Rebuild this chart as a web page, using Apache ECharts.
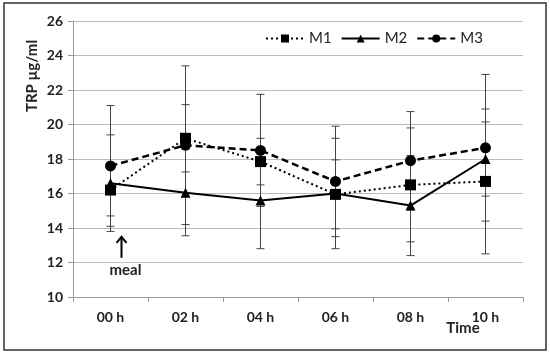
<!DOCTYPE html>
<html>
<head>
<meta charset="utf-8">
<script src="https://cdn.jsdelivr.net/npm/echarts@6/dist/echarts.min.js"></script>
<style>
  html, body { margin: 0; padding: 0; background: #fff; }
  #chart { width: 550px; height: 353px; }
</style>
</head>
<body>
<div id="chart"></div>
<script>
const categories = ['00 h', '02 h', '04 h', '06 h', '08 h', '10 h'];
const m1 = [16.2, 19.2, 17.85, 15.95, 16.5, 16.7];
const m2 = [16.6, 16.05, 15.6, 16.0, 15.3, 18.0];
const m3 = [17.6, 18.8, 18.5, 16.7, 17.9, 18.65];
const m1Err = [1.5, 1.95, 1.35, 2.0, 3.3, 4.2];
const m2Err = [2.8, 2.5, 2.8, 3.2, 2.9, 2.15];
const m3Err = [3.5, 4.6, 3.25, 3.2, 2.85, 4.25];
const yTicks = [10, 12, 14, 16, 18, 20, 22, 24, 26];

const font = 'Lato, "Open Sans", sans-serif';

function errData(vals, errs) {
	return vals.map((v, i) => [i, v - errs[i], v + errs[i]]);
}

function errSeries(vals, errs) {
	return {
		type: 'custom',
		silent: true,
		z: 1,
		data: errData(vals, errs),
		renderItem: (params, api) => {
			const x = api.value(0);
			const lo = api.coord([x, api.value(1)]);
			const hi = api.coord([x, api.value(2)]);
			const cap = 4;
			const style = { stroke: '#444', lineWidth: 1 };
			return {
				type: 'group',
				children: [
					{ type: 'line', shape: { x1: lo[0], y1: lo[1], x2: hi[0], y2: hi[1] }, style },
					{ type: 'line', shape: { x1: lo[0] - cap, y1: lo[1], x2: lo[0] + cap, y2: lo[1] }, style },
					{ type: 'line', shape: { x1: hi[0] - cap, y1: hi[1], x2: hi[0] + cap, y2: hi[1] }, style }
				]
			};
		}
	};
}

const lineBase = {
	type: 'line',
	z: 3,
	color: '#000',
	symbolSize: 11,
	showAllSymbol: true,
	animation: false
};

const chart = echarts.init(document.getElementById('chart'));
chart.setOption({
	animation: false,
	grid: { left: 73, right: 27, top: 21, bottom: 56 },
	legend: {
		left: 260,
		top: 26,
		itemWidth: 38,
		itemHeight: 10,
		itemGap: 9,
		textStyle: { fontFamily: font, fontSize: 15, color: '#222' },
		data: ['M1', 'M2', 'M3']
	},
	xAxis: {
		type: 'category',
		data: categories,
		boundaryGap: true,
		axisLine: { lineStyle: { color: '#999' } },
		axisTick: { show: true, length: 5, lineStyle: { color: '#999' } },
		axisLabel: { fontFamily: font, fontWeight: 'bold', fontSize: 14, color: '#222', margin: 13 }
	},
	yAxis: {
		type: 'value',
		min: yTicks[0],
		max: yTicks[yTicks.length - 1],
		interval: 2,
		axisLine: { show: true, lineStyle: { color: '#999' } },
		axisTick: { show: true, length: 5, lineStyle: { color: '#999' } },
		axisLabel: { fontFamily: font, fontWeight: 'bold', fontSize: 14, color: '#222', margin: 10 },
		splitLine: { lineStyle: { color: '#bbb' } }
	},
	series: [
		errSeries(m1, m1Err),
		errSeries(m2, m2Err),
		errSeries(m3, m3Err),
		{ ...lineBase, name: 'M1', data: m1, symbol: 'rect', symbolSize: 11,
			lineStyle: { color: '#000', width: 2, type: [2, 3] } },
		{ ...lineBase, name: 'M2', data: m2, symbol: 'triangle', symbolSize: 10,
			lineStyle: { color: '#000', width: 2 } },
		{ ...lineBase, name: 'M3', data: m3, symbol: 'circle', symbolSize: 11,
			lineStyle: { color: '#000', width: 2.5, type: [7, 4] } }
	]
});

// annotations: border, axis titles, meal arrow
const mealPt = chart.convertToPixel({ xAxisIndex: 0, yAxisIndex: 0 }, [0, 13.2]);
const ax = mealPt[0] + 11;
const ay = mealPt[1] + 3;
chart.setOption({
	graphic: [
		{ type: 'rect', shape: { x: 4, y: 3, width: 542, height: 347 },
			style: { fill: 'none', stroke: '#333', lineWidth: 1.5 }, silent: true },
		{ type: 'text', x: 32, y: 76, rotation: Math.PI / 2,
			style: { text: 'TRP µg/ml', fontFamily: font, fontWeight: 'bold', fontSize: 15, fill: '#222',
				textAlign: 'center', textVerticalAlign: 'middle' } },
		{ type: 'text', x: 463, y: 328,
			style: { text: 'Time', fontFamily: font, fontWeight: 'bold', fontSize: 15, fill: '#222',
				textAlign: 'center', textVerticalAlign: 'middle' } },
		{ type: 'line', shape: { x1: ax, y1: ay - 8, x2: ax, y2: ay + 13 },
			style: { stroke: '#000', lineWidth: 2 } },
		{ type: 'polyline', shape: { points: [[ax - 5, ay - 2], [ax, ay - 8], [ax + 5, ay - 2]] },
			style: { stroke: '#000', lineWidth: 2, fill: 'none' } },
		{ type: 'text', x: ax + 4, y: ay + 25,
			style: { text: 'meal', fontFamily: font, fontWeight: 'bold', fontSize: 15, fill: '#222',
				textAlign: 'center', textVerticalAlign: 'middle' } }
	]
});
window.addEventListener('resize', () => chart.resize());
</script>
</body>
</html>
